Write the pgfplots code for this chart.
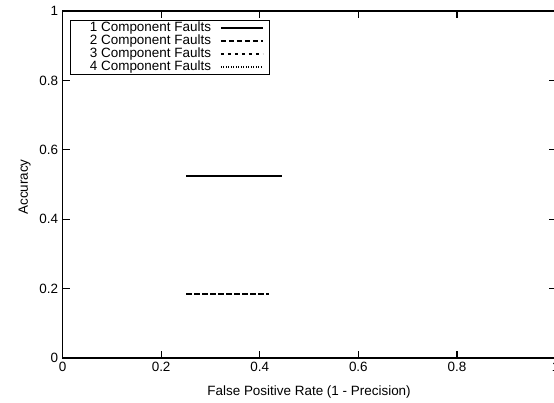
\documentclass[border=0pt]{standalone}
\usepackage{fontspec}
\setmainfont{Liberation Sans}
\usepackage{pgfplots}
\pgfplotsset{compat=1.18}
\newcommand{\lent}[1]{\makebox[132bp][r]{#1}}
\begin{document}
\begin{tikzpicture}[font=\fontsize{13.5}{15}\selectfont]
\begin{axis}[
  scale only axis,
  width=493bp, height=347bp,
  xmin=0, xmax=1, ymin=0, ymax=1,
  xtick={0,0.2,0.4,0.6,0.8,1},
  ytick={0,0.2,0.4,0.6,0.8,1},
  /pgf/number format/assume math mode=true,
  /pgf/number format/fixed,
  tick align=inside,
  major tick length=7bp,
  axis line style={line width=1.2bp},
  every tick/.style={line width=1.2bp, black},
  xlabel={False Positive Rate (1 - Precision)},
  ylabel={Accuracy},
  xlabel style={at={(axis description cs:0.5,0)}, anchor=center, yshift=-34bp},
  ylabel style={at={(axis description cs:-0.077,0.493)}, anchor=center},
  xticklabel style={yshift=-1bp},
  yticklabel style={xshift=-1bp},
  legend plot pos=right,
  legend cell align=right,
  legend style={at={(0.0142,0.974)}, anchor=north west, draw=black, line width=1bp,
    inner xsep=6bp, inner ysep=1bp, row sep=0bp, column sep=6bp,
    nodes={inner xsep=3bp, inner ysep=0.5bp, text height=9.5bp, text depth=2.5bp, line width=1.4bp}},
  legend image code/.code={\draw[#1] (0bp,0bp) -- (42bp,0bp);},
]
\coordinate (bl) at (rel axis cs:0,0);
\coordinate (tr) at (rel axis cs:1,1);
\addplot[black, line width=1.6bp] coordinates {(0.251,0.524) (0.446,0.524)};
\addlegendentry{\lent{1 Component Faults}}
\addplot[black, line width=1.5bp, dash pattern=on 5.5bp off 2.5bp] coordinates {(0.251,0.184) (0.419,0.184)};
\addlegendentry{\lent{2 Component Faults}}
\addplot[black, line width=1.4bp, dash pattern=on 3bp off 4bp] coordinates {(0,0) (0.273,0)};
\addlegendentry{\lent{3 Component Faults}}
\addplot[black, line width=1.4bp, dash pattern=on 1bp off 1.5bp] coordinates {(0,0) (0.19,0)};
\addlegendentry{\lent{4 Component Faults}}
\end{axis}
\pgfresetboundingbox
\path ([xshift=-62.5bp,yshift=-44bp]bl) rectangle ([xshift=-1.6bp,yshift=11bp]tr);
\end{tikzpicture}
\end{document}
